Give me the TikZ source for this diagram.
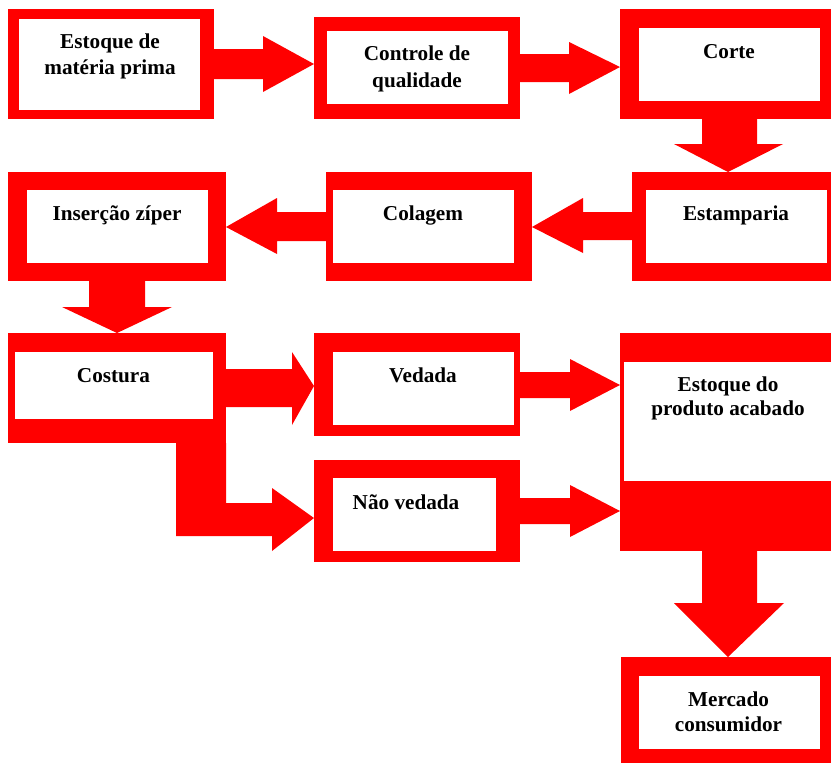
\documentclass[tikz,border=0pt]{standalone}
\usepackage{fontspec}
\setmainfont{Liberation Serif}
\definecolor{boxred}{RGB}{255,0,0}
\newcommand\twolines[3]{{\fontsize{21.2}{#1}\selectfont\begin{tabular}[t]{@{}c@{}}#2\\#3\end{tabular}}}
\tikzset{
  outerbox/.style={rectangle, fill=boxred, draw=none, inner sep=0pt, outer sep=0pt, anchor=north west},
  innerbox/.style={rectangle, fill=white, draw=none, inner sep=0pt, outer sep=0pt, anchor=north west},
  boxtext/.style={font=\fontsize{21.2}{25.5}\selectfont\bfseries, inner sep=0pt, outer sep=0pt, anchor=base, text=black},
  blockarrow/.style={fill=boxred, draw=none}
}
\begin{document}
\begin{tikzpicture}[x=1pt,y=-1pt]
\useasboundingbox (0,0) rectangle (831,763);
% outer red frames
\node[outerbox, minimum width=206, minimum height=110] (b1) at (8,9) {};
\node[outerbox, minimum width=206, minimum height=102] (b2) at (314,17) {};
\node[outerbox, minimum width=211, minimum height=110] (b3) at (620,9) {};
\node[outerbox, minimum width=199, minimum height=109] (b4) at (632,172) {};
\node[outerbox, minimum width=206, minimum height=109] (b5) at (326,172) {};
\node[outerbox, minimum width=218, minimum height=109] (b6) at (8,172) {};
\node[outerbox, minimum width=218, minimum height=110] (b7) at (8,333) {};
\node[outerbox, minimum width=206, minimum height=103] (b8) at (314,333) {};
\node[outerbox, minimum width=206, minimum height=102] (b9) at (314,460) {};
\node[outerbox, minimum width=211, minimum height=218] (b10) at (620,333) {};
\node[outerbox, minimum width=210, minimum height=106] (b11) at (621,657) {};
% inner white fields
\node[innerbox, minimum width=181, minimum height=91] (b1i) at (19,19) {};
\node[innerbox, minimum width=181, minimum height=73] (b2i) at (327,31) {};
\node[innerbox, minimum width=181, minimum height=73] (b3i) at (639,28) {};
\node[innerbox, minimum width=181, minimum height=73] (b4i) at (646,190) {};
\node[innerbox, minimum width=181, minimum height=73] (b5i) at (333,190) {};
\node[innerbox, minimum width=181, minimum height=73] (b6i) at (27,190) {};
\node[innerbox, minimum width=198, minimum height=67] (b7i) at (15,352) {};
\node[innerbox, minimum width=181, minimum height=73] (b8i) at (333,352) {};
\node[innerbox, minimum width=163, minimum height=73] (b9i) at (333,478) {};
\node[innerbox, minimum width=207, minimum height=119] (b10i) at (624,362) {};
\node[innerbox, minimum width=181, minimum height=73] (b11i) at (639,676) {};
% block arrows
\fill[blockarrow] (b1.east |- 0,49) -- (263,49) -- (263,36) -- (b2.west |- 0,64) -- (263,92) -- (263,79) -- (b1.east |- 0,79) -- cycle;
\fill[blockarrow] (b2.east |- 0,54) -- (569,54) -- (569,42) -- (b3.west |- 0,67) -- (569,94) -- (569,82) -- (b2.east |- 0,82) -- cycle;
\fill[blockarrow] (b3.south -| 702,0) -- (702,144) -- (674,144) -- (b4.north -| 728,0) -- (783,144) -- (757,144) -- (b3.south -| 757,0) -- cycle;
\fill[blockarrow] (b4.west |- 0,212) -- (583,212) -- (583,198) -- (b5.east |- 0,227) -- (583,253) -- (583,240) -- (b4.west |- 0,240) -- cycle;
\fill[blockarrow] (b5.west |- 0,212) -- (277,212) -- (277,198) -- (b6.east |- 0,227) -- (277,254) -- (277,241) -- (b5.west |- 0,241) -- cycle;
\fill[blockarrow] (b6.south -| 89,0) -- (89,307) -- (62,307) -- (b7.north -| 117,0) -- (172,307) -- (145,307) -- (b6.south -| 145,0) -- cycle;
\fill[blockarrow] (b7.east |- 0,369) -- (292,369) -- (292,352) -- (b8.west |- 0,386) -- (292,425) -- (292,407) -- (b7.east |- 0,407) -- cycle;
\fill[blockarrow] (b7.south -| 176,0) -- (b7.south -| 226,0) -- (226,503) -- (272,503) -- (272,488) -- (b9.west |- 0,518) -- (272,551) -- (272,536) -- (176,536) -- cycle;
\fill[blockarrow] (b8.east |- 0,372) -- (570,372) -- (570,359) -- (b10.west |- 0,385) -- (570,411) -- (570,398) -- (b8.east |- 0,398) -- cycle;
\fill[blockarrow] (b9.east |- 0,498) -- (570,498) -- (570,485) -- (b10.west |- 0,511) -- (570,537) -- (570,524) -- (b9.east |- 0,524) -- cycle;
\fill[blockarrow] (b10.south -| 702,0) -- (702,603) -- (674,603) -- (b11.north -| 728,0) -- (784,603) -- (757,603) -- (b10.south -| 757,0) -- cycle;
% texts
\node[boxtext] (t1) at (110,48) {\twolines{26}{Estoque de}{matéria prima}};
\node[boxtext] (t2) at (417,60) {\twolines{27}{Controle de}{qualidade}};
\node[boxtext] (t3) at (729,58) {Corte};
\node[boxtext] (t4) at (736,220) {Estamparia};
\node[boxtext] (t5) at (423,220) {Colagem};
\node[boxtext] (t6) at (117,220) {Inserção zíper};
\node[boxtext] (t7) at (113.5,382) {Costura};
\node[boxtext] (t8) at (423,382) {Vedada};
\node[boxtext] (t9) at (406,509) {Não vedada};
\node[boxtext] (t10) at (728,391) {\twolines{24}{Estoque do}{produto acabado}};
\node[boxtext] (t11) at (728.5,706) {\twolines{25}{Mercado}{consumidor}};
\end{tikzpicture}
\end{document}
